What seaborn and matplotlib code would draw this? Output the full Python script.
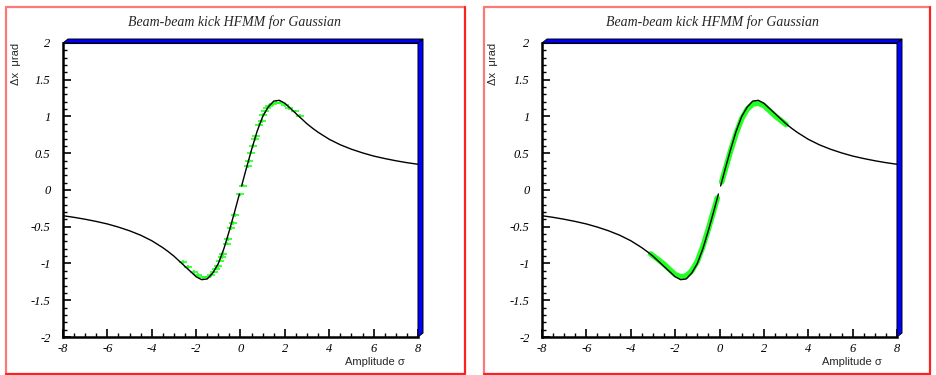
import numpy as np
import pandas as pd
import matplotlib
matplotlib.use("Agg")
import matplotlib.pyplot as plt
import seaborn as sns
from matplotlib.patches import Polygon
from matplotlib.lines import Line2D
from matplotlib.ticker import MultipleLocator

# Analytic beam-beam kick (black curve), split into two branches around x = 0
kick_neg_x = [-8, -7.5, -7, -6.5, -6, -5.5, -5, -4.5, -4, -3.5, -3.25, -3, -2.75,
              -2.5, -2.25, -2, -1.75, -1.5, -1.25, -1, -0.75, -0.5, -0.25, -0.05]
kick_neg_y = [-0.35, -0.372, -0.398, -0.428, -0.462, -0.505, -0.555, -0.615,
              -0.69, -0.785, -0.84, -0.90, -0.97, -1.04, -1.11, -1.18, -1.22,
              -1.21, -1.13, -1.00, -0.80, -0.55, -0.28, -0.055]
kick_pos_x = [0.05, 0.25, 0.5, 0.75, 1, 1.25, 1.5, 1.75, 2, 2.25, 2.5, 2.75, 3,
              3.25, 3.5, 4, 4.5, 5, 5.5, 6, 6.5, 7, 7.5, 8]
kick_pos_y = [0.055, 0.28, 0.55, 0.80, 1.00, 1.13, 1.21, 1.22, 1.18, 1.11, 1.04,
              0.97, 0.90, 0.84, 0.785, 0.69, 0.615, 0.555, 0.505, 0.462, 0.428,
              0.398, 0.372, 0.35]

# HFMM samples, left panel
hfmm_x = [-2.6, -2.35, -2.1, -1.9, -1.7, -1.5, -1.35, -1.2, -1.1, -1.0, -0.92,
          -0.85, -0.8, -0.62, -0.55, -0.42, -0.35, -0.26, -0.02, 0.13, 0.35,
          0.40, 0.46, 0.55, 0.65, 0.70, 0.85, 0.95, 1.03, 1.12, 1.2, 1.3, 1.45,
          1.6, 1.8, 2.0, 2.2, 2.45, 2.7]
hfmm_y = [-0.98, -1.05, -1.12, -1.16, -1.19, -1.19, -1.16, -1.11, -1.07, -1.03,
          -0.96, -0.91, -0.87, -0.73, -0.67, -0.52, -0.45, -0.34, -0.06, 0.06,
          0.32, 0.39, 0.51, 0.60, 0.69, 0.73, 0.89, 0.94, 1.02, 1.07, 1.11, 1.14,
          1.17, 1.19, 1.19, 1.16, 1.12, 1.07, 1.01]

# HFMM dense samples, right panel
band_neg_x = [-3.1, -2.75, -2.5, -2.25, -2.0, -1.75, -1.5, -1.25, -1.0, -0.75,
              -0.5, -0.25, -0.1]
band_neg_y = [-0.87, -0.95, -1.01, -1.08, -1.15, -1.18, -1.17, -1.10, -0.97,
              -0.77, -0.53, -0.27, -0.11]
band_pos_x = [0.1, 0.25, 0.5, 0.75, 1.0, 1.25, 1.5, 1.75, 2.0, 2.25, 2.5, 2.75, 3.0]
band_pos_y = [0.11, 0.27, 0.53, 0.77, 0.97, 1.10, 1.17, 1.18, 1.15, 1.08, 1.01,
              0.95, 0.89]

x_ticks = [-8, -6, -4, -2, 0, 2, 4, 6, 8]
x_tick_labels = ["-8", "-6", "-4", "-2", "0", "2", "4", "6", "8"]
y_ticks = [-2, -1.5, -1, -0.5, 0, 0.5, 1, 1.5, 2]
y_tick_labels = ["-2", "-1.5", "-1", "-0.5", "0", "0.5", "1", "1.5", "2"]

title_text = "Beam-beam kick HFMM for Gaussian"
x_label = "Amplitude σ"
y_label = "Δx  μrad"

kick_df = pd.DataFrame({
    "x": kick_neg_x + kick_pos_x,
    "y": kick_neg_y + kick_pos_y,
    "branch": ["neg"] * len(kick_neg_x) + ["pos"] * len(kick_pos_x),
})
band_df = pd.DataFrame({
    "x": band_neg_x + band_pos_x,
    "y": band_neg_y + band_pos_y,
    "branch": ["neg"] * len(band_neg_x) + ["pos"] * len(band_pos_x),
})

sns.set_style("ticks")
plt.rcParams["font.family"] = ["Liberation Sans", "DejaVu Sans"]

W, H = 936, 375
fig = plt.figure(figsize=(W / 100, H / 100), dpi=100)
fig.patch.set_facecolor("white")


def fx(px):
    return px / W


def fy(py):
    return 1 - py / H


def pad_border(x0, y0, x1, y1):
    light, dark = "#ff7878", "#ff2020"
    fig.add_artist(Line2D([fx(x0), fx(x0)], [fy(y0), fy(y1)], color=light, lw=1.6,
                          transform=fig.transFigure))
    fig.add_artist(Line2D([fx(x0), fx(x1)], [fy(y0), fy(y0)], color=light, lw=1.6,
                          transform=fig.transFigure))
    fig.add_artist(Line2D([fx(x1), fx(x1)], [fy(y0), fy(y1)], color=dark, lw=1.6,
                          transform=fig.transFigure))
    fig.add_artist(Line2D([fx(x0), fx(x1)], [fy(y1), fy(y1)], color=dark, lw=1.6,
                          transform=fig.transFigure))


def make_axes(left_px):
    ax = fig.add_axes([fx(left_px), fy(337), (418 - 63) / W, (337 - 43) / H])
    ax.set_xlim(-8, 8)
    ax.set_ylim(-2, 2)
    ax.set_xticks(x_ticks, x_tick_labels)
    ax.set_yticks(y_ticks, y_tick_labels)
    ax.xaxis.set_minor_locator(MultipleLocator(0.5))
    ax.yaxis.set_minor_locator(MultipleLocator(0.1))
    ax.tick_params(which="major", direction="in", length=6, width=1.2,
                   top=False, right=False, colors="black")
    ax.tick_params(which="minor", direction="in", length=3, width=1.0,
                   top=False, right=False, colors="black")
    ax.tick_params(axis="y", which="major", pad=9)
    ax.tick_params(axis="x", which="major", pad=4)
    for lbl in ax.get_xticklabels() + ax.get_yticklabels():
        lbl.set_fontfamily("Liberation Serif")
        lbl.set_fontstyle("italic")
        lbl.set_fontsize(9)
    for side in ("left", "bottom"):
        ax.spines[side].set_linewidth(1.8)
    for side in ("top", "right"):
        ax.spines[side].set_linewidth(0.8)
    for sp in ax.spines.values():
        sp.set_color("black")
    # bevelled blue frame along top and right edges
    dx, dy = 5 / 355, 4 / 294
    top = Polygon([(0, 1), (1, 1), (1 + dx, 1 + dy), (dx, 1 + dy)], closed=True,
                  facecolor="#0000ff", edgecolor="black", lw=0.7,
                  transform=ax.transAxes, clip_on=False, zorder=5)
    right = Polygon([(1, 0), (1, 1), (1 + dx, 1 + dy), (1 + dx, dy)], closed=True,
                    facecolor="#0000ff", edgecolor="black", lw=0.7,
                    transform=ax.transAxes, clip_on=False, zorder=5)
    ax.add_patch(top)
    ax.add_patch(right)
    return ax


def panel_text(offset):
    fig.text(fx(235 + offset), fy(22), title_text, ha="center", va="center",
             fontsize=10, fontstyle="italic", family="Liberation Serif")
    fig.text(fx(16 + offset), fy(43), y_label, rotation=90, ha="center", va="top",
             fontsize=8)
    fig.text(fx(405 + offset), fy(362), x_label, ha="right", va="center",
             fontsize=8)


# Left panel: analytic kick with HFMM sample points
pad_border(5.7, 6.7, 465, 373.5)
ax1 = make_axes(63)
ax1.errorbar(hfmm_x, hfmm_y, xerr=0.18, yerr=0.025, fmt="none",
             ecolor="#22ff22", elinewidth=1.2, zorder=2)
sns.lineplot(data=kick_df, x="x", y="y", units="branch", estimator=None,
             sort=False, color="black", lw=1.0, ax=ax1, zorder=3)
ax1.set_xlabel("")
ax1.set_ylabel("")
panel_text(0)

# Right panel: analytic kick with dense HFMM samples
pad_border(484, 6.7, 930, 373.5)
ax2 = make_axes(542)
sns.lineplot(data=band_df, x="x", y="y", units="branch", estimator=None,
             sort=False, color="#22ff22", lw=4.0, ax=ax2, zorder=2)
sns.lineplot(data=kick_df, x="x", y="y", units="branch", estimator=None,
             sort=False, color="black", lw=1.0, ax=ax2, zorder=3)
ax2.set_xlabel("")
ax2.set_ylabel("")
panel_text(477)

fig.savefig("out.png", dpi=100, facecolor="white")
